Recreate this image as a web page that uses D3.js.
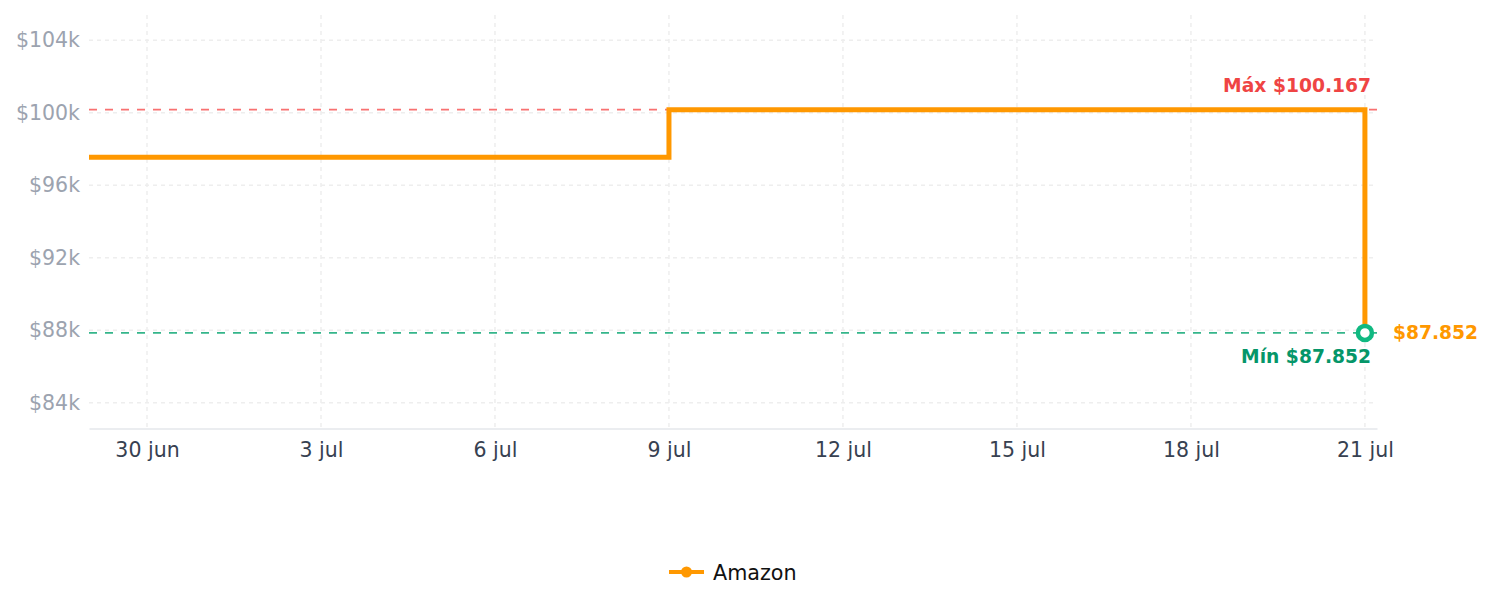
<!DOCTYPE html>
<html>
<head>
<meta charset="utf-8">
<script src="https://cdn.jsdelivr.net/npm/d3@7"></script>
<style>
  body { margin: 0; background: #fff; font-family: "DejaVu Sans", sans-serif; }
</style>
</head>
<body>
<svg id="chart" width="1491" height="607"></svg>
<script>
// price history (Amazon)
var dates = ['2025-06-29', '2025-07-09', '2025-07-21'];
var prices = [97540, 100167, 87852];

var xTickDates = ['2025-06-30', '2025-07-03', '2025-07-06', '2025-07-09', '2025-07-12', '2025-07-15', '2025-07-18', '2025-07-21'];
var xTickLabels = ['30 jun', '3 jul', '6 jul', '9 jul', '12 jul', '15 jul', '18 jul', '21 jul'];
var yTicks = [84000, 88000, 92000, 96000, 100000, 104000];
var yTickLabels = ['$84k', '$88k', '$92k', '$96k', '$100k', '$104k'];

var maxPrice = 100167;
var minPrice = 87852;
var lastPrice = 87852;

(function(d3) {
  'use strict';

  var width = 1491, height = 607;
  var margin = { top: 15, right: 114, bottom: 178.5, left: 89 };
  var parse = d3.timeParse('%Y-%m-%d');

  var data = dates.map(function(d, i) { return { date: parse(d), price: prices[i] }; });

  var x = d3.scaleTime()
    .domain([parse('2025-06-29'), d3.timeHour.offset(parse('2025-07-21'), 5)])
    .range([margin.left, width - margin.right]);

  var y = d3.scaleLinear()
    .domain([82577, 105390])
    .range([height - margin.bottom, margin.top]);

  var svg = d3.select('#chart');

  // grid
  var grid = svg.append('g');
  grid.selectAll('.hg').data(yTicks).enter().append('line')
    .attr('x1', margin.left).attr('x2', width - margin.right)
    .attr('y1', function(d) { return y(d); }).attr('y2', function(d) { return y(d); })
    .attr('stroke', '#eeeeee').attr('stroke-width', 1.5).attr('stroke-dasharray', '4 4');
  grid.selectAll('.vg').data(xTickDates).enter().append('line')
    .attr('x1', function(d) { return x(parse(d)); }).attr('x2', function(d) { return x(parse(d)); })
    .attr('y1', margin.top).attr('y2', height - margin.bottom)
    .attr('stroke', '#eeeeee').attr('stroke-width', 1.5).attr('stroke-dasharray', '4 4');

  // y axis labels
  var yAxis = d3.axisLeft(y).tickValues(yTicks)
    .tickFormat(function(d, i) { return yTickLabels[i]; })
    .tickSize(0).tickPadding(9);
  var gy = svg.append('g').attr('transform', 'translate(' + margin.left + ',0)').call(yAxis);
  gy.select('.domain').remove();
  gy.selectAll('text').attr('fill', '#9ca3af').style('font-size', '20.5px').style('font-family', 'DejaVu Sans');

  // x axis
  var xAxis = d3.axisBottom(x).tickValues(xTickDates.map(parse))
    .tickFormat(function(d, i) { return xTickLabels[i]; })
    .tickSize(0).tickPadding(14);
  var gx = svg.append('g').attr('transform', 'translate(0,' + (height - margin.bottom) + ')').call(xAxis);
  gx.select('.domain').attr('stroke', '#e5e7eb').attr('stroke-width', 1.5);
  gx.selectAll('text').attr('fill', '#374151').style('font-size', '20.5px').style('font-family', 'DejaVu Sans');

  // reference lines
  svg.append('line')
    .attr('x1', margin.left).attr('x2', width - margin.right)
    .attr('y1', y(maxPrice)).attr('y2', y(maxPrice))
    .attr('stroke', '#f87171').attr('stroke-width', 1.8).attr('stroke-dasharray', '8 8');
  svg.append('line')
    .attr('x1', margin.left).attr('x2', width - margin.right)
    .attr('y1', y(minPrice)).attr('y2', y(minPrice))
    .attr('stroke', '#34b58a').attr('stroke-width', 1.8).attr('stroke-dasharray', '8 8');

  // step line
  var line = d3.line()
    .x(function(d) { return x(d.date); })
    .y(function(d) { return y(d.price); })
    .curve(d3.curveStepAfter);
  svg.append('path').datum(data)
    .attr('d', line)
    .attr('fill', 'none')
    .attr('stroke', '#ff9800')
    .attr('stroke-width', 5)
    .attr('stroke-linejoin', 'miter');

  var last = data[data.length - 1];
  svg.append('circle')
    .attr('cx', x(last.date)).attr('cy', y(last.price)).attr('r', 7)
    .attr('fill', '#fff').attr('stroke', '#10b981').attr('stroke-width', 4.5);

  // labels
  var fmt = function(v) { return '$' + d3.format(',')(v).replace(/,/g, '.'); };
  svg.append('text')
    .attr('x', width - margin.right - 6).attr('y', y(maxPrice) - 18)
    .attr('text-anchor', 'end').attr('fill', '#ef4444')
    .style('font-size', '18.7px').style('font-weight', 'bold')
    .text('Máx ' + fmt(maxPrice));
  svg.append('text')
    .attr('x', width - margin.right - 6).attr('y', y(minPrice) + 30)
    .attr('text-anchor', 'end').attr('fill', '#059669')
    .style('font-size', '18.7px').style('font-weight', 'bold')
    .text('Mín ' + fmt(minPrice));
  svg.append('text')
    .attr('x', x(last.date) + 28).attr('y', y(lastPrice) + 6.5)
    .attr('fill', '#ff9800')
    .style('font-size', '18.7px').style('font-weight', 'bold')
    .text(fmt(lastPrice));

  // legend
  var lg = svg.append('g').attr('transform', 'translate(669,572)');
  lg.append('line').attr('x1', 0).attr('x2', 35).attr('y1', 0).attr('y2', 0)
    .attr('stroke', '#ff9800').attr('stroke-width', 4);
  lg.append('circle').attr('cx', 17.5).attr('cy', 0).attr('r', 5.5).attr('fill', '#ff9800');
  lg.append('text').attr('x', 44).attr('y', 7.5)
    .attr('fill', '#111').style('font-size', '20.7px')
    .text('Amazon');
})(window.d3);
</script>
</body>
</html>
